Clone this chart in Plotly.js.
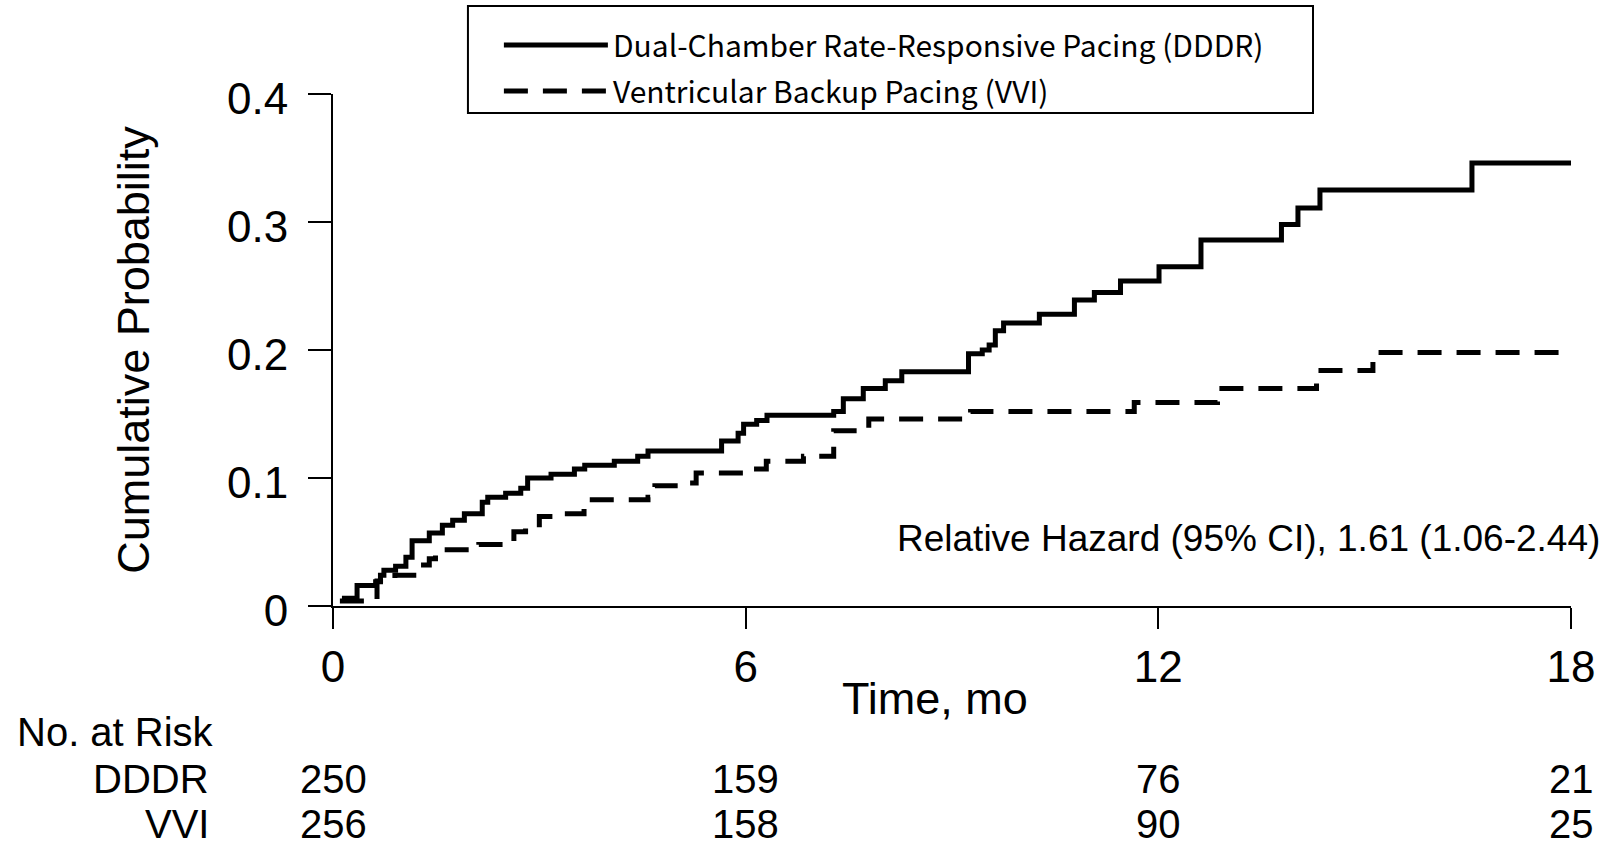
<!DOCTYPE html>
<html><head><meta charset="utf-8">
<script src="https://cdn.plot.ly/plotly-3.0.1.min.js"></script>
<style>html,body{margin:0;padding:0;background:#fff}#chart{width:1605px;height:847px}</style>
</head><body><div id="chart"></div>
<script>
// DDDR: Dual-Chamber Rate-Responsive Pacing (step curve, cumulative probability)
const dddrTime = [0.13,0.35,0.62,0.69,0.74,0.91,1.06,1.15,1.40,1.59,1.74,1.91,2.17,2.25,2.51,2.73,2.83,3.17,3.51,3.66,4.09,4.43,4.58,5.65,5.89,5.97,6.16,6.31,7.28,7.42,7.71,8.03,8.27,9.24,9.44,9.54,9.63,9.75,10.27,10.78,11.07,11.45,12.01,12.62,13.79,14.03,14.35,16.56,18];
const dddrProb = [0.006,0.016,0.019,0.024,0.028,0.031,0.038,0.051,0.057,0.063,0.067,0.072,0.081,0.085,0.088,0.092,0.100,0.103,0.107,0.110,0.113,0.117,0.121,0.129,0.135,0.142,0.145,0.149,0.152,0.162,0.170,0.176,0.183,0.197,0.200,0.204,0.215,0.221,0.228,0.239,0.245,0.254,0.265,0.286,0.298,0.311,0.325,0.346,0.346];
// VVI: Ventricular Backup Pacing
const vviTime = [0.10,0.64,0.90,1.27,1.40,1.49,2.12,2.63,2.80,3.00,3.20,3.65,4.58,4.68,5.10,5.28,5.97,6.30,6.84,7.28,7.79,9.27,11.65,12.86,14.30,15.12,18];
const vviProb = [0.004,0.0195,0.024,0.032,0.037,0.044,0.048,0.058,0.061,0.070,0.072,0.083,0.085,0.094,0.096,0.104,0.107,0.113,0.117,0.137,0.146,0.152,0.159,0.170,0.184,0.198,0.198];

const seriesNames = ['Dual-Chamber Rate-Responsive Pacing (DDDR)', 'Ventricular Backup Pacing (VVI)'];
const xTickVals = [0, 6, 12, 18];
const xTickText = ['0', '6', '12', '18'];
const yTickVals = [0, 0.1, 0.2, 0.3, 0.4];
const yTickText = ['0', '0.1', '0.2', '0.3', '0.4'];

const riskTimes = [0, 6, 12, 18];
const riskGroups = ['DDDR', 'VVI'];
const riskDDDR = [250, 159, 76, 21];
const riskVVI = [256, 158, 90, 25];
const hazardText = 'Relative Hazard (95% CI), 1.61 (1.06-2.44)';
const xTitle = 'Time, mo';
const yTitle = 'Cumulative Probability';

const FONT = 'Liberation Sans, Arial, sans-serif';

const traces = [
  {x: dddrTime, y: dddrProb, name: seriesNames[0], mode: 'lines', line: {shape: 'hv', color: '#000', width: 5}, legendgroup: 'a', hoverinfo: 'x+y'},
  {x: vviTime, y: vviProb, name: seriesNames[1], mode: 'lines', line: {shape: 'hv', color: '#000', width: 5, dash: '24px,15px'}, legendgroup: 'b', hoverinfo: 'x+y'}
];

const annotations = [];
const rowY = [-0.338, -0.426];
[riskDDDR, riskVVI].forEach((row, r) => {
  annotations.push({xref: 'paper', yref: 'paper', x: -0.0985, y: rowY[r], xanchor: 'right', yanchor: 'middle', text: riskGroups[r], showarrow: false, font: {family: FONT, size: 40, color: '#000'}});
  row.forEach((v, i) => {
    annotations.push({xref: 'x', yref: 'paper', x: riskTimes[i], y: rowY[r], xanchor: 'center', yanchor: 'middle', text: String(v), showarrow: false, font: {family: FONT, size: 40, color: '#000'}});
  });
});
annotations.push({xref: 'paper', yref: 'paper', x: -0.257, y: -0.246, xanchor: 'left', yanchor: 'middle', text: 'No. at Risk', showarrow: false, font: {family: FONT, size: 40, color: '#000'}});
annotations.push({xref: 'paper', yref: 'paper', x: 1.025, y: 0.131, xanchor: 'right', yanchor: 'middle', text: hazardText, showarrow: false, font: {family: FONT, size: 37, color: '#000'}});
annotations.push({xref: 'paper', yref: 'paper', x: 0.486, y: -0.1816, xanchor: 'center', yanchor: 'middle', text: xTitle, showarrow: false, font: {family: FONT, size: 45, color: '#000'}});

const layout = {
  width: 1605, height: 847,
  margin: {l: 333, r: 34, t: 94, b: 241},
  paper_bgcolor: '#fff', plot_bgcolor: '#fff',
  showlegend: true,
  legend: {
    x: 0.134, y: 1.1465, xanchor: 'left', yanchor: 'top',
    borderwidth: 0, bgcolor: 'rgba(0,0,0,0)',
    font: {family: 'Noto Sans CJK JP, sans-serif', size: 30, color: '#000'},
    itemwidth: 104, traceorder: 'grouped', tracegroupgap: 4
  },
  shapes: [
    {type: 'rect', xref: 'paper', yref: 'paper', x0: 0.109, x1: 0.7916, y0: 0.963, y1: 1.172, line: {color: '#000', width: 2}, fillcolor: 'rgba(0,0,0,0)', layer: 'below'}
  ],
  xaxis: {
    range: [0, 18], tickvals: xTickVals, ticktext: xTickText,
    showline: true, linecolor: '#000', linewidth: 2,
    ticks: 'outside', ticklen: 21, tickwidth: 2, tickcolor: '#000',
    showgrid: false, zeroline: false, automargin: false,
    tickfont: {family: FONT, size: 44, color: '#000'}
  },
  yaxis: {
    range: [0, 0.4], tickvals: yTickVals, ticktext: yTickText,
    showline: true, linecolor: '#000', linewidth: 2,
    ticks: 'outside', ticklen: 23, tickwidth: 2, tickcolor: '#000',
    showgrid: false, zeroline: false, automargin: false,
    ticklabelstandoff: 11, ticklabelshift: 5,
    tickfont: {family: FONT, size: 44, color: '#000'},
    title: {text: yTitle, font: {family: FONT, size: 45, color: '#000'}, standoff: 63}
  },
  annotations: annotations
};

Plotly.newPlot('chart', traces, layout, {displayModeBar: false, responsive: false});
</script>
</body></html>
